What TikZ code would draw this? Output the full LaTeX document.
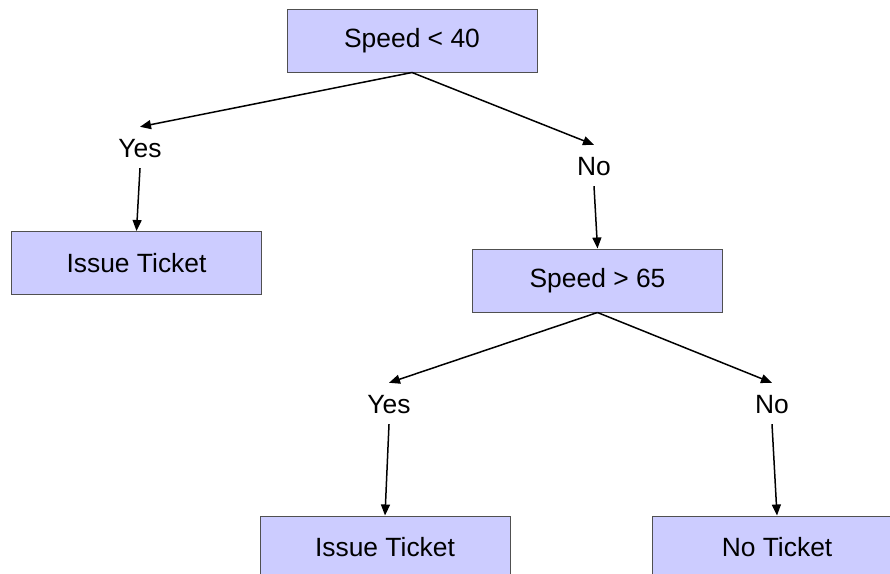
\documentclass[tikz,border=0pt]{standalone}
\usepackage{fontspec}
\setmainfont{Liberation Sans}
\usetikzlibrary{arrows.meta}

\definecolor{boxfill}{RGB}{204,204,255}
\definecolor{boxline}{RGB}{80,80,80}

\begin{document}
\begin{tikzpicture}[x=1pt, y=-1pt,
		box/.style={draw=boxline, fill=boxfill, line width=1pt, minimum width=250pt, minimum height=63pt, inner sep=0pt, font=\fontsize{26.4}{30}\selectfont},
		answer/.style={text height=19pt, text depth=0pt, inner xsep=2pt, inner ysep=11pt, anchor=base, font=\fontsize{26.4}{30}\selectfont},
		link/.style={line width=1.5pt, -{Triangle[length=11pt,width=9pt]}}]
		
		\useasboundingbox (0,0) rectangle (890,573);
		\clip (0,0) rectangle (890,573);
		
		% tests
		\node [box] (under40) at (412,40.5) {Speed < 40};
		\node [box] (over65) at (597.5,280.5) {Speed > 65};
		
		% outcomes
		\node [box] (ticketA) at (136.5,263) {Issue Ticket};
		\node [box] (ticketB) at (385,547.5) {Issue Ticket};
		\node [box] (noticket) at (777,547.5) {No Ticket};
		
		% answers
		\node [answer] (yesA) at (140,157) {Yes};
		\node [answer] (noA) at (594,175) {No};
		\node [answer] (yesB) at (389,413) {Yes};
		\node [answer] (noB) at (772,413) {No};
		
		\draw [link] (under40.south) -- (yesA.north);
		\draw [link] (under40.south) -- (noA.north);
		\draw [link] (yesA.south) -- (ticketA.north);
		\draw [link] (noA.south) -- (over65.north);
		\draw [link] (over65.south) -- (yesB.north);
		\draw [link] (over65.south) -- (noB.north);
		\draw [link] (yesB.south) -- (ticketB.north);
		\draw [link] (noB.south) -- (noticket.north);
	\end{tikzpicture}
\end{document}
